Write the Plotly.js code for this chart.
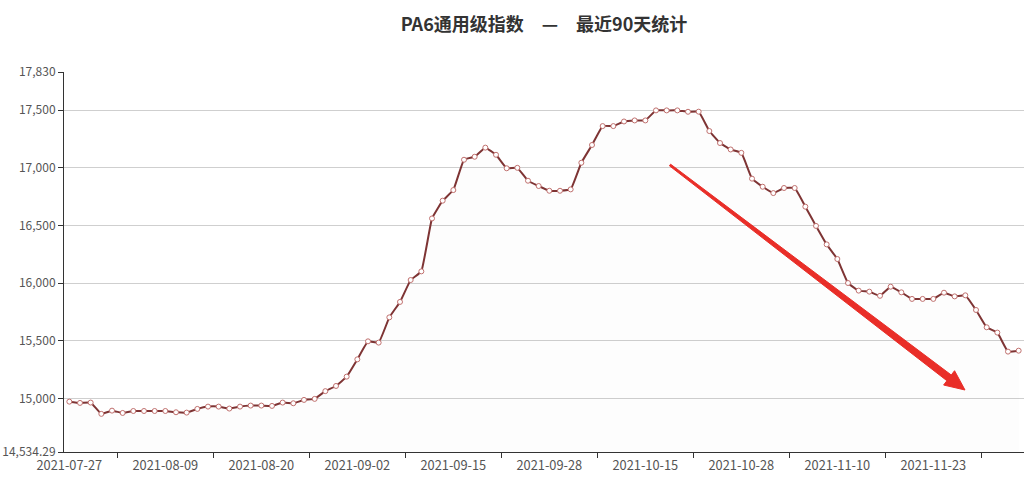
<!DOCTYPE html>
<html>
<head>
<meta charset="utf-8">
<script src="https://cdn.plot.ly/plotly-3.0.1.min.js"></script>
<style>html,body{margin:0;padding:0;background:#fff;}#chart{width:1036px;height:480px;}</style>
</head>
<body>
<div id="chart"></div>
<script>
// Chinese working days (90 points)
const dates = [
 "2021-07-27","2021-07-28","2021-07-29","2021-07-30","2021-08-02","2021-08-03","2021-08-04","2021-08-05","2021-08-06","2021-08-09",
 "2021-08-10","2021-08-11","2021-08-12","2021-08-13","2021-08-16","2021-08-17","2021-08-18","2021-08-19","2021-08-20","2021-08-23",
 "2021-08-24","2021-08-25","2021-08-26","2021-08-27","2021-08-30","2021-08-31","2021-09-01","2021-09-02","2021-09-03","2021-09-06",
 "2021-09-07","2021-09-08","2021-09-09","2021-09-10","2021-09-13","2021-09-14","2021-09-15","2021-09-16","2021-09-17","2021-09-18",
 "2021-09-22","2021-09-23","2021-09-24","2021-09-26","2021-09-27","2021-09-28","2021-09-29","2021-09-30","2021-10-08","2021-10-09",
 "2021-10-11","2021-10-12","2021-10-13","2021-10-14","2021-10-15","2021-10-18","2021-10-19","2021-10-20","2021-10-21","2021-10-22",
 "2021-10-25","2021-10-26","2021-10-27","2021-10-28","2021-10-29","2021-11-01","2021-11-02","2021-11-03","2021-11-04","2021-11-05",
 "2021-11-08","2021-11-09","2021-11-10","2021-11-11","2021-11-12","2021-11-15","2021-11-16","2021-11-17","2021-11-18","2021-11-19",
 "2021-11-22","2021-11-23","2021-11-24","2021-11-25","2021-11-26","2021-11-29","2021-11-30","2021-12-01","2021-12-02","2021-12-03"
];
const indexValues = [
 14971,14960,14963,14865,14893,14873,14890,14890,14890,14890,
 14879,14876,14908,14928,14928,14911,14928,14937,14937,14934,
 14963,14957,14986,14995,15062,15107,15188,15338,15494,15483,
 15702,15836,16026,16101,16560,16714,16806,17069,17095,17174,
 17112,16995,16999,16887,16841,16800,16800,16812,17043,17197,
 17361,17361,17401,17410,17410,17497,17497,17497,17485,17486,
 17318,17214,17158,17129,16905,16835,16780,16824,16824,16662,
 16495,16335,16208,16000,15934,15925,15889,15968,15919,15862,
 15862,15862,15916,15884,15893,15766,15616,15570,15405,15413
];
const xLabelDates = ["2021-07-27","2021-08-09","2021-08-20","2021-09-02","2021-09-15","2021-09-28","2021-10-15","2021-10-28","2021-11-10","2021-11-23"];
const yTickValues = [14534.29, 15000, 15500, 16000, 16500, 17000, 17500, 17830];
const yTickLabels = ["14,534.29","15,000","15,500","16,000","16,500","17,000","17,500","17,830"];
const titleText = "PA6通用级指数　—　最近90天统计";

const xIdx = dates.map((d, i) => i);
const xTickVals = xLabelDates.map(d => dates.indexOf(d));
const xMinorVals = xTickVals.map(v => v + 4.5);

// arrow polygon (pixel space -> paper)
const L = 64, T = 72, W = 960, H = 380;
function toPaper(p){ return [(p[0]-L)/W, (T+H-p[1])/H]; }
function arrowPath(tail, tip, headLen, headHalf, w0, w1){
  const dx = tip[0]-tail[0], dy = tip[1]-tail[1];
  const len = Math.hypot(dx, dy);
  const u = [dx/len, dy/len], n = [-u[1], u[0]];
  const B = [tip[0]-headLen*u[0], tip[1]-headLen*u[1]];
  const pts = [
    [tail[0]-w0*n[0], tail[1]-w0*n[1]],
    [B[0]-w1*n[0], B[1]-w1*n[1]],
    [B[0]-headHalf*n[0], B[1]-headHalf*n[1]],
    tip,
    [B[0]+headHalf*n[0], B[1]+headHalf*n[1]],
    [B[0]+w1*n[0], B[1]+w1*n[1]],
    [tail[0]+w0*n[0], tail[1]+w0*n[1]]
  ].map(toPaper);
  return 'M' + pts.map(p => p[0].toFixed(5)+','+p[1].toFixed(5)).join(' L') + ' Z';
}

const trace = {
  x: xIdx, y: indexValues, type: 'scatter', mode: 'lines+markers',
  line: {color: '#7e3434', width: 2, shape: 'spline', smoothing: 0.3},
  marker: {symbol: 'circle', size: 5, color: '#ffffff', line: {color: '#c0706e', width: 1}},
  fill: 'tozeroy', fillcolor: 'rgba(120,80,80,0.012)',
  hoverinfo: 'x+y'
};

const layout = {
  width: 1036, height: 480,
  margin: {l: 64, r: 12, t: 72, b: 28},
  paper_bgcolor: '#ffffff', plot_bgcolor: '#ffffff',
  showlegend: false,
  font: {family: '"Noto Sans CJK SC", "Noto Sans", sans-serif', color: '#555', size: 12},
  title: {
    text: titleText, x: 0.5, xref: 'paper', xanchor: 'center',
    y: 0.948, yref: 'container', yanchor: 'middle',
    font: {family: '"Noto Sans CJK SC", sans-serif', size: 18, color: '#333', weight: 'bold'}
  },
  xaxis: {
    type: 'linear', range: [-0.5, 89.5], fixedrange: true,
    tickmode: 'array', tickvals: xTickVals, ticktext: xLabelDates,
    ticks: '', showgrid: false, zeroline: false,
    showline: true, linecolor: '#333', linewidth: 1,
    ticklabelstandoff: 2,
    tickfont: {size: 12.8, color: '#555'},
    minor: {tickmode: 'array', tickvals: xMinorVals, ticks: 'outside', ticklen: 5, tickcolor: '#333', tickwidth: 1, showgrid: false}
  },
  yaxis: {
    range: [14534.28, 17830.01], fixedrange: true,
    tickmode: 'array', tickvals: yTickValues, ticktext: yTickLabels,
    ticks: 'outside', ticklen: 5, tickcolor: '#333',
    showgrid: true, gridcolor: '#cfcfcf', gridwidth: 1, zeroline: false,
    showline: true, linecolor: '#333', linewidth: 1,
    tickfont: {size: 12, color: '#555'}
  },
  shapes: [{
    type: 'path', xref: 'paper', yref: 'paper',
    path: arrowPath([670,165], [965,390], 20, 9, 1, 3.6),
    fillcolor: '#e8231d', line: {color: '#e8231d', width: 1}, opacity: 0.95
  }]
};

Plotly.newPlot('chart', [trace], layout, {displayModeBar: false, staticPlot: true});
</script>
</body>
</html>
